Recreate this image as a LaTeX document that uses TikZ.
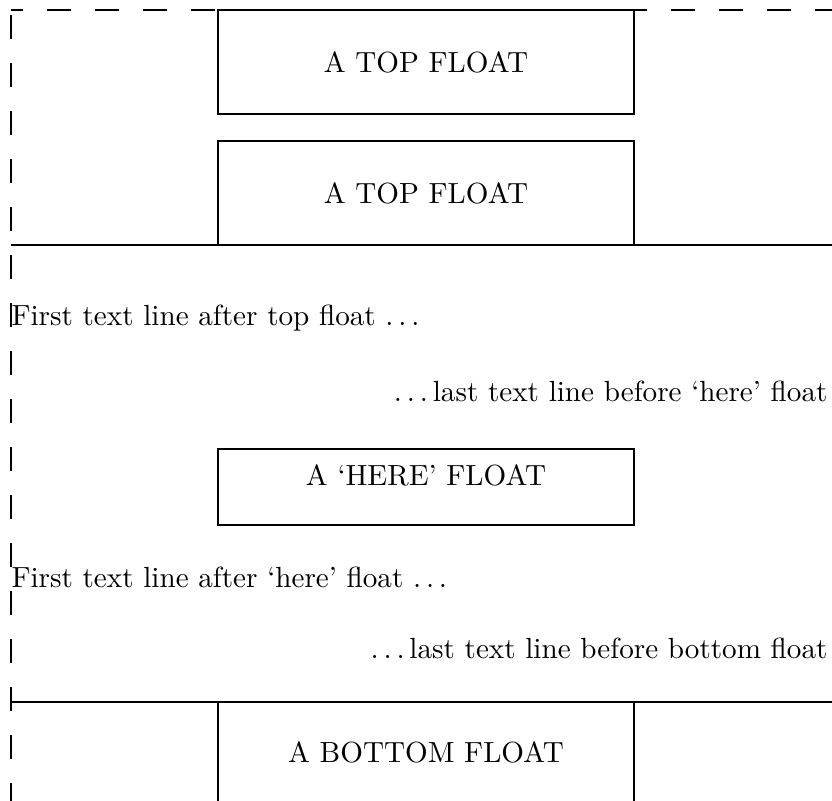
\documentclass[tikz,border=0pt]{standalone}
\newcommand{\pxu}{0.35pt}
\newcommand{\spdots}{.\kern1.7pt.\kern1.7pt.\kern1.7pt}
\begin{document}
\begin{tikzpicture}[x=\pxu, y=-\pxu,
  every node/.style={font=\fontsize{10.2pt}{12pt}\selectfont},
  floatbox/.style={draw, line width=0.8pt, inner sep=0pt, minimum width=145.6pt},
  pagerule/.style={line width=0.4pt},
  pageedge/.style={line width=0.4pt, dash pattern=on 8.4pt off 8.4pt},
  bodyline/.style={inner sep=0pt}]
  \useasboundingbox (0,0) rectangle (832,801);
  \begin{scope}
  \clip (0,0) rectangle (832,801);
  % page edges
  \coordinate (corner) at (11,10);
  \coordinate (edge-e) at (832,10);
  \coordinate (edge-s) at (11,801);
  \draw[pageedge, dash phase=4.2pt] (corner) -- (edge-e);
  \draw[pageedge, dash phase=15.05pt] (corner) -- (edge-s);
  % top floats
  \node[floatbox, minimum height=36.4pt] (topa) at (426,62) {A TOP FLOAT};
  \node[floatbox, minimum height=36.4pt] (topb) at (426,193) {A TOP FLOAT};
  \coordinate (rulea-w) at (11,245);
  \coordinate (rulea-e) at (832,245);
  \draw[pagerule] (rulea-w) -- (rulea-e);
  % text and here float
  \node[bodyline, anchor=base west] (linea) at (11,325) {First text line after top float \spdots};
  \node[bodyline, anchor=base east] (lineb) at (828,401) {\spdots last text line before `here' float};
  \node[floatbox, minimum height=26.6pt] (here) at (426,487) {};
  \node (herelabel) at (426,475) {A `HERE' FLOAT};
  \node[bodyline, anchor=base west] (linec) at (11,587) {First text line after `here' float \spdots};
  \node[bodyline, anchor=base east] (lined) at (828,658) {\spdots last text line before bottom float};
  % bottom float
  \coordinate (ruleb-w) at (11,702);
  \coordinate (ruleb-e) at (832,702);
  \draw[pagerule] (ruleb-w) -- (ruleb-e);
  \node[floatbox, minimum height=35pt] (bottom) at (426,752) {A BOTTOM FLOAT};
  \end{scope}
\end{tikzpicture}
\end{document}
